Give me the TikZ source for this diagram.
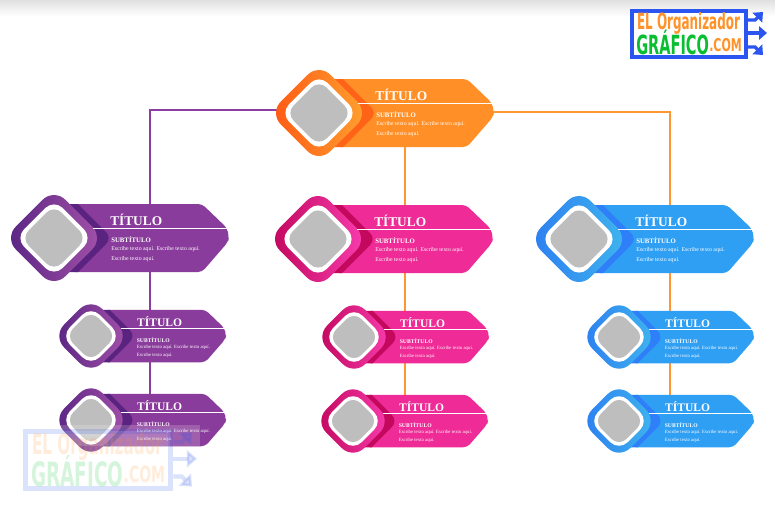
\documentclass[tikz,border=0pt]{standalone}
\usepackage{fontspec}
\usepackage{graphicx}
\usetikzlibrary{arrows.meta, positioning, calc}
\setmainfont{Liberation Serif}
\newfontfamily\logofont{DejaVu Sans}
\definecolor{OrangeBar}{RGB}{255, 143, 38}
\definecolor{OrangeDark}{RGB}{255, 99, 24}
\definecolor{OrangeLow}{RGB}{255, 88, 20}
\definecolor{OrangeHigh}{RGB}{255, 162, 48}
\definecolor{PurpleBar}{RGB}{138, 60, 156}
\definecolor{PurpleDark}{RGB}{90, 35, 128}
\definecolor{PurpleLow}{RGB}{88, 36, 130}
\definecolor{PurpleHigh}{RGB}{164, 82, 170}
\definecolor{PinkBar}{RGB}{238, 43, 150}
\definecolor{PinkDark}{RGB}{196, 8, 94}
\definecolor{PinkLow}{RGB}{192, 6, 92}
\definecolor{PinkHigh}{RGB}{250, 62, 176}
\definecolor{BlueBar}{RGB}{47, 159, 244}
\definecolor{BlueDark}{RGB}{47, 128, 248}
\definecolor{BlueLow}{RGB}{44, 126, 240}
\definecolor{BlueHigh}{RGB}{64, 182, 238}
\definecolor{ImageGray}{RGB}{190, 190, 190}
\definecolor{WireOrange}{RGB}{255, 150, 50}
\definecolor{WirePurple}{RGB}{140, 62, 165}
\definecolor{LogoBlue}{RGB}{43, 85, 240}
\definecolor{LogoOrange}{RGB}{255, 146, 40}
\definecolor{LogoGreen}{RGB}{10, 190, 50}
\pgfdeclarelayer{wires}
\pgfsetlayers{wires,main}
\tikzset{
  wire/.style={line width=1.1pt},
  pics/card/.style n args={3}{code={
    \fill[#1Bar,rounded corners=3pt] (17,-34) -- (148,-34) -- (173,-10) -- (175,-1) -- (174,4) -- (148,34) -- (17,34) -- cycle;
    \fill[#1Dark] (0,-34) -- (24,-34) [rounded corners=6pt] -- (58,0) [sharp corners] -- (24,34) -- (0,34) -- cycle;
    \node[minimum width=118.5pt,minimum height=51pt,inner sep=0pt,transform shape] (-bar) at (96,0) {};
    \node[rotate=45,transform shape,minimum size=52.6pt,inner sep=0pt,rounded corners=12pt,left color=#1Low,right color=#1High] (-diamond) at (0,0) {};
    \node[rotate=45,transform shape,minimum size=41pt,inner sep=0pt,rounded corners=9.2pt,fill=white] (-ring) at (0,0) {};
    \node[rotate=45,transform shape,minimum size=35pt,inner sep=0pt,rounded corners=8pt,fill=ImageGray] (-image) at (0,0) {};
    \draw[white,line width=0.8pt] (39,-9.5) -- (174,-9.5);
    \node[anchor=west,inner sep=0pt,text=white,transform shape,scale=#2,font=\fontsize{10pt}{11pt}\selectfont\bfseries] (-title) at ({56+(#2-1)*30},{-18-(#2-1)*8}) {TÍTULO};
    \node[anchor=west,inner sep=0pt,text=white,transform shape,scale=#3,font=\fontsize{5.1pt}{6pt}\selectfont\bfseries] (-sub) at ({57+(#3-1)*30},{2+(#3-1)*56}) {SUBTÍTULO};
    \node[anchor=north west,inner sep=0pt,text=white,transform shape,scale=#3,align=left,font=\fontsize{4.35pt}{7.2pt}\selectfont] (-body) at ({57+(#3-1)*30},{8.2+(#3-1)*44}) {Escribe texto aquí. Escribe texto aquí.\\Escribe texto aquí.};
  }},
  pics/logo/.style={code={
    \node[draw=LogoBlue,fill=white,line width=#1*2.8pt,minimum width=85.5pt,minimum height=34pt,inner sep=0pt,transform shape] (-box) at (0,0) {};
    \coordinate (-upper) at (74,-22);
    \coordinate (-upperbend) at (66,-14);
    \coordinate (-middle) at (78,-1);
    \coordinate (-lower) at (74,21);
    \coordinate (-lowerbend) at (66,13);
    \draw[draw=LogoBlue,line width=#1*2.4pt,-{Triangle[length=#1*6pt,width=#1*10pt]}] (-box.east |- -upperbend) -- (-upperbend) -- (-upper);
    \draw[draw=LogoBlue,line width=#1*2.4pt,-{Triangle[length=#1*6pt,width=#1*10pt]}] (-box.east |- -middle) -- (-middle);
    \draw[draw=LogoBlue,line width=#1*2.4pt,-{Triangle[length=#1*6pt,width=#1*10pt]}] (-box.east |- -lowerbend) -- (-lowerbend) -- (-lower);
    \node[inner sep=0pt,text=LogoOrange,transform shape,font=\logofont\bfseries\fontsize{14pt}{14pt}\selectfont] (-top) at (-0.5,-10.5) {\scalebox{0.64}[1.2]{EL Organizador}};
    \node[anchor=west,inner sep=0pt,text=LogoGreen,transform shape,font=\logofont\bfseries\fontsize{16.5pt}{16pt}\selectfont] (-name) at (-53,8.5) {\scalebox{0.66}[1.2]{GRÁFICO}};
    \node[anchor=west,inner sep=0pt,text=LogoOrange,transform shape,font=\logofont\bfseries\fontsize{11pt}{11pt}\selectfont] (-dom) at (20,11.5) {\scalebox{0.75}[1.2]{.COM}};
  }}
}

\begin{document}
\begin{tikzpicture}[x=0.75pt,y=-0.75pt]
    \useasboundingbox (0,0) rectangle (775,512);
    % cards
    \pic (top) at (319,113) {card={Orange}{1}{1}};
    \pic (purple) at (54,238) {card={Purple}{1}{1}};
    \pic (pink) at (318,239) {card={Pink}{1}{1}};
    \pic (blue) at (579,239) {card={Blue}{1}{1}};
    \pic[scale=0.772] (purpleone) at (91,336) {card={Purple}{1.12}{1.07}};
    \pic[scale=0.772] (purpletwo) at (91,420) {card={Purple}{1.12}{1.07}};
    \pic[scale=0.772] (pinkone) at (354,337) {card={Pink}{1.12}{1.07}};
    \pic[scale=0.772] (pinktwo) at (353,421) {card={Pink}{1.12}{1.07}};
    \pic[scale=0.772] (blueone) at (619,337) {card={Blue}{1.12}{1.07}};
    \pic[scale=0.772] (bluetwo) at (619,421) {card={Blue}{1.12}{1.07}};
    % connectors
    \coordinate (purplecol) at (150,110);
    \coordinate (pinkcol) at (405,112);
    \coordinate (bluecol) at (670,112);
    \coordinate (topleft) at (285,110);
    \coordinate (topright) at (490,112);
    \begin{pgfonlayer}{wires}
      \fill[white] (0,0) rectangle (775,512);
      \shade[top color=black!12,bottom color=white] (0,0) rectangle (775,16);
      \draw[wire,WirePurple] (topleft) -| (purple-bar.north -| purplecol);
      \draw[wire,WireOrange] (topright) -| (blue-bar.north -| bluecol);
      \draw[wire,WireOrange] (top-bar.south -| pinkcol) -- (pink-bar.north -| pinkcol);
      \draw[wire,WirePurple] (purple-bar.south -| purplecol) -- (purpleone-bar.north -| purplecol);
      \draw[wire,WirePurple] (purpleone-bar.south -| purplecol) -- (purpletwo-bar.north -| purplecol);
      \draw[wire,WireOrange] (pink-bar.south -| pinkcol) -- (pinkone-bar.north -| pinkcol);
      \draw[wire,WireOrange] (pinkone-bar.south -| pinkcol) -- (pinktwo-bar.north -| pinkcol);
      \draw[wire,WireOrange] (blue-bar.south -| bluecol) -- (blueone-bar.north -| bluecol);
      \draw[wire,WireOrange] (blueone-bar.south -| bluecol) -- (bluetwo-bar.north -| bluecol);
    \end{pgfonlayer}
    % logos
    \pic (logo) at (689,34) {logo=1};
    \fill[white,opacity=0.18] (24,425) rectangle (200,446);
    \pic[scale=1.27,opacity=0.17] (mark) at (98,460) {logo=1.27};
  \end{tikzpicture}
\end{document}
